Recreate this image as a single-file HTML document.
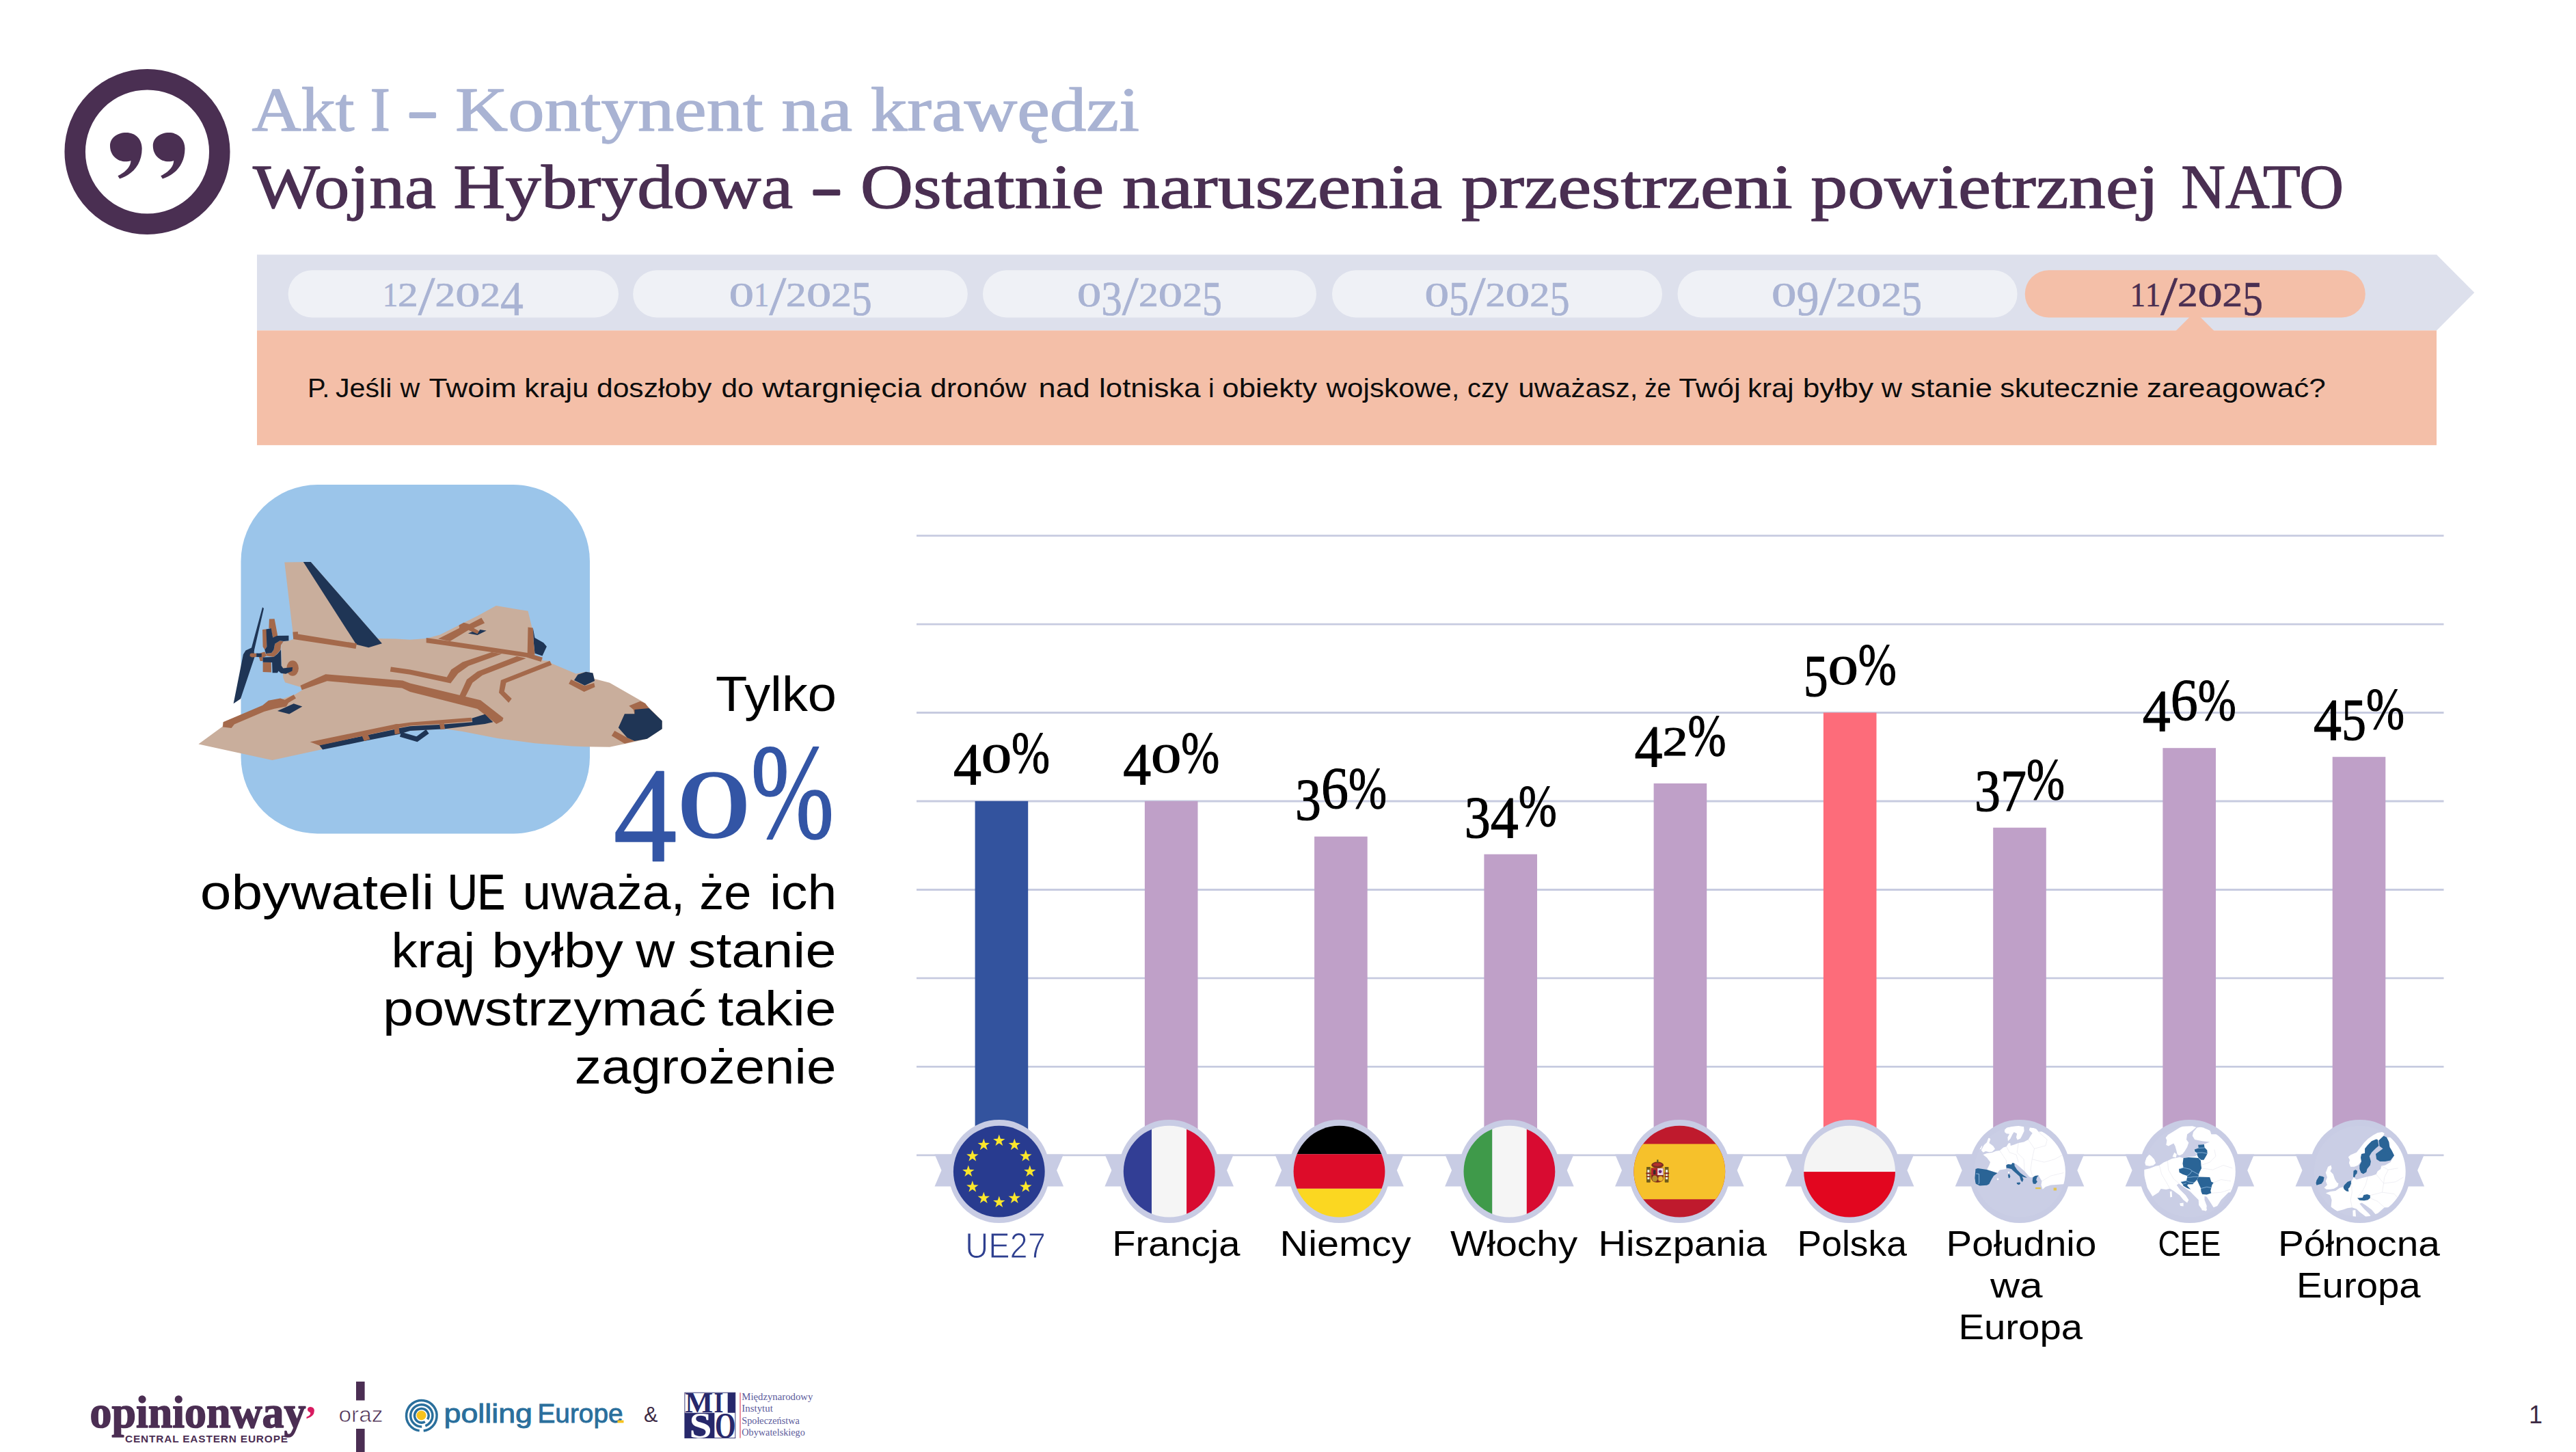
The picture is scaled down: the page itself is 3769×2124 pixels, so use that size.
<!DOCTYPE html>
<html lang="pl">
<head>
<meta charset="utf-8">
<title>Wojna Hybrydowa - Ostatnie naruszenia przestrzeni powietrznej NATO</title>
<style>
html,body{margin:0;padding:0;background:#fff;}
body{width:3769px;height:2124px;overflow:hidden;position:relative;}
svg{display:block;position:absolute;left:0;top:0;}
.sans{font-family:"Liberation Sans", "DejaVu Sans", sans-serif;}
.serif{font-family:"Liberation Serif", "DejaVu Serif", serif;}
</style>
</head>
<body>
<svg width="3769" height="2124" viewBox="0 0 3769 2124">
<!-- HEADER: quote icon + titles -->
<g id="quote-icon" fill="#4a2f52">
  <circle cx="215.5" cy="222" r="105.8" fill="none" stroke="#4a2f52" stroke-width="30.5"/>
  <path id="comma" d="M161 213.2 C161 202.3 171 194.1 184.6 194.1 C198.2 194.1 207.7 203.6 207.7 217.2 C207.7 240.3 194.1 255.3 175.1 261.5 L172.4 257.2 C184.6 251.2 191.4 243 191.4 234.9 C188.7 236 186.5 236.3 184.1 236.3 C171 236.3 161 226.7 161 213.2 Z"/>
  <path d="M161 213.2 C161 202.3 171 194.1 184.6 194.1 C198.2 194.1 207.7 203.6 207.7 217.2 C207.7 240.3 194.1 255.3 175.1 261.5 L172.4 257.2 C184.6 251.2 191.4 243 191.4 234.9 C188.7 236 186.5 236.3 184.1 236.3 C171 236.3 161 226.7 161 213.2 Z" transform="translate(62.8 0)"/>
</g>
<text class="serif" font-size="92" fill="#a9b3d3" stroke="#a9b3d3" stroke-width="1.3" stroke-linejoin="round"><tspan x="368.5" y="191" textLength="150.1" lengthAdjust="spacingAndGlyphs">Akt</tspan> <tspan x="541.5" y="191" textLength="29.5" lengthAdjust="spacingAndGlyphs">I</tspan> <tspan x="600.8" y="189.6" textLength="35.2" lengthAdjust="spacingAndGlyphs" stroke-width="4.2">–</tspan> <tspan x="666.1" y="191" textLength="450.6" lengthAdjust="spacingAndGlyphs">Kontynent</tspan> <tspan x="1143.2" y="191" textLength="103.9" lengthAdjust="spacingAndGlyphs">na</tspan> <tspan x="1273.7" y="191" textLength="393.3" lengthAdjust="spacingAndGlyphs">krawędzi</tspan></text>
<text class="serif" font-size="92" fill="#4a2f52" stroke="#4a2f52" stroke-width="1.3" stroke-linejoin="round"><tspan x="369.9" y="304.2" textLength="268.3" lengthAdjust="spacingAndGlyphs">Wojna</tspan> <tspan x="663.3" y="304.2" textLength="496.9" lengthAdjust="spacingAndGlyphs">Hybrydowa</tspan> <tspan x="1191.6" y="302.8" textLength="35.7" lengthAdjust="spacingAndGlyphs" stroke-width="4.2">–</tspan> <tspan x="1258.7" y="304.2" textLength="356.6" lengthAdjust="spacingAndGlyphs">Ostatnie</tspan> <tspan x="1641.9" y="304.2" textLength="468.3" lengthAdjust="spacingAndGlyphs">naruszenia</tspan> <tspan x="2138.1" y="304.2" textLength="484.6" lengthAdjust="spacingAndGlyphs">przestrzeni</tspan> <tspan x="2649.2" y="304.2" textLength="509.4" lengthAdjust="spacingAndGlyphs">powietrznej</tspan> <tspan x="3191.2" y="304.2" textLength="237.8" lengthAdjust="spacingAndGlyphs">NATO</tspan></text>
<!-- TIMELINE -->
<g id="timeline">
  <polygon points="376,372.6 3565,372.6 3620.3,428 3565,483.6 376,483.6" fill="#dde0ec"/>
  <rect x="376" y="483.4" width="3189" height="167.8" fill="#f4bfa8"/>
  <polygon points="3183.5,484 3211.5,456 3239.5,484" fill="#f4bfa8"/>
  <g fill="#eff1f6">
    <rect x="421.6" y="395.3" width="483.4" height="69.2" rx="34.6"/>
    <rect x="926.2" y="395.3" width="489.6" height="69.2" rx="34.6"/>
    <rect x="1438" y="395.3" width="488" height="69.2" rx="34.6"/>
    <rect x="1949" y="395.3" width="483" height="69.2" rx="34.6"/>
    <rect x="2454.5" y="395.3" width="497.1" height="69.2" rx="34.6"/>
  </g>
  <rect x="2962.7" y="395.3" width="498.1" height="69.2" rx="34.6" fill="#f4bfa8"/>
  <g id="dates">
  <text class="serif" fill="#a9b3d3" stroke="#a9b3d3" stroke-width="0.7"><tspan x="559.9" y="448.3" font-size="49.8" textLength="22.2" lengthAdjust="spacingAndGlyphs">1</tspan><tspan x="582.1" y="448.3" font-size="49.8" textLength="29.7" lengthAdjust="spacingAndGlyphs">2</tspan><tspan x="611.8" y="459.5" font-size="80" textLength="24.7" lengthAdjust="spacingAndGlyphs">/</tspan><tspan x="636.5" y="448.3" font-size="49.8" textLength="29.7" lengthAdjust="spacingAndGlyphs">2</tspan><tspan x="666.2" y="448.3" font-size="49.8" textLength="36.3" lengthAdjust="spacingAndGlyphs">0</tspan><tspan x="702.5" y="448.3" font-size="49.8" textLength="29.7" lengthAdjust="spacingAndGlyphs">2</tspan><tspan x="732.1" y="461.3" font-size="71.0" textLength="33.8" lengthAdjust="spacingAndGlyphs">4</tspan></text>
  <text class="serif" fill="#a9b3d3" stroke="#a9b3d3" stroke-width="0.7"><tspan x="1066.7" y="448.3" font-size="49.8" textLength="36.3" lengthAdjust="spacingAndGlyphs">0</tspan><tspan x="1103.0" y="448.3" font-size="49.8" textLength="22.3" lengthAdjust="spacingAndGlyphs">1</tspan><tspan x="1125.4" y="459.5" font-size="80" textLength="24.8" lengthAdjust="spacingAndGlyphs">/</tspan><tspan x="1150.1" y="448.3" font-size="49.8" textLength="29.7" lengthAdjust="spacingAndGlyphs">2</tspan><tspan x="1179.9" y="448.3" font-size="49.8" textLength="36.3" lengthAdjust="spacingAndGlyphs">0</tspan><tspan x="1216.2" y="448.3" font-size="49.8" textLength="29.7" lengthAdjust="spacingAndGlyphs">2</tspan><tspan x="1246.0" y="461.3" font-size="71.0" textLength="29.7" lengthAdjust="spacingAndGlyphs">5</tspan></text>
  <text class="serif" fill="#a9b3d3" stroke="#a9b3d3" stroke-width="0.7"><tspan x="1576.0" y="448.3" font-size="49.8" textLength="35.3" lengthAdjust="spacingAndGlyphs">0</tspan><tspan x="1611.3" y="461.3" font-size="71.0" textLength="30.5" lengthAdjust="spacingAndGlyphs">3</tspan><tspan x="1641.8" y="459.5" font-size="80" textLength="24.1" lengthAdjust="spacingAndGlyphs">/</tspan><tspan x="1665.9" y="448.3" font-size="49.8" textLength="28.9" lengthAdjust="spacingAndGlyphs">2</tspan><tspan x="1694.8" y="448.3" font-size="49.8" textLength="35.3" lengthAdjust="spacingAndGlyphs">0</tspan><tspan x="1730.2" y="448.3" font-size="49.8" textLength="28.9" lengthAdjust="spacingAndGlyphs">2</tspan><tspan x="1759.1" y="461.3" font-size="71.0" textLength="28.9" lengthAdjust="spacingAndGlyphs">5</tspan></text>
  <text class="serif" fill="#a9b3d3" stroke="#a9b3d3" stroke-width="0.7"><tspan x="2084.5" y="448.3" font-size="49.8" textLength="35.6" lengthAdjust="spacingAndGlyphs">0</tspan><tspan x="2120.1" y="461.3" font-size="71.0" textLength="29.1" lengthAdjust="spacingAndGlyphs">5</tspan><tspan x="2149.2" y="459.5" font-size="80" textLength="24.3" lengthAdjust="spacingAndGlyphs">/</tspan><tspan x="2173.5" y="448.3" font-size="49.8" textLength="29.1" lengthAdjust="spacingAndGlyphs">2</tspan><tspan x="2202.6" y="448.3" font-size="49.8" textLength="35.6" lengthAdjust="spacingAndGlyphs">0</tspan><tspan x="2238.2" y="448.3" font-size="49.8" textLength="29.1" lengthAdjust="spacingAndGlyphs">2</tspan><tspan x="2267.4" y="461.3" font-size="71.0" textLength="29.1" lengthAdjust="spacingAndGlyphs">5</tspan></text>
  <text class="serif" fill="#a9b3d3" stroke="#a9b3d3" stroke-width="0.7"><tspan x="2592.0" y="448.3" font-size="49.8" textLength="36.4" lengthAdjust="spacingAndGlyphs">0</tspan><tspan x="2628.4" y="461.3" font-size="71.0" textLength="33.1" lengthAdjust="spacingAndGlyphs">9</tspan><tspan x="2661.5" y="459.5" font-size="80" textLength="24.8" lengthAdjust="spacingAndGlyphs">/</tspan><tspan x="2686.3" y="448.3" font-size="49.8" textLength="29.8" lengthAdjust="spacingAndGlyphs">2</tspan><tspan x="2716.1" y="448.3" font-size="49.8" textLength="36.4" lengthAdjust="spacingAndGlyphs">0</tspan><tspan x="2752.5" y="448.3" font-size="49.8" textLength="29.8" lengthAdjust="spacingAndGlyphs">2</tspan><tspan x="2782.2" y="461.3" font-size="71.0" textLength="29.8" lengthAdjust="spacingAndGlyphs">5</tspan></text>
  <text class="serif" fill="#4a2f52" stroke="#4a2f52" stroke-width="0.7"><tspan x="3116.8" y="448.3" font-size="49.8" textLength="22.2" lengthAdjust="spacingAndGlyphs">1</tspan><tspan x="3139.0" y="448.3" font-size="49.8" textLength="22.2" lengthAdjust="spacingAndGlyphs">1</tspan><tspan x="3161.2" y="459.5" font-size="80" textLength="24.7" lengthAdjust="spacingAndGlyphs">/</tspan><tspan x="3185.9" y="448.3" font-size="49.8" textLength="29.6" lengthAdjust="spacingAndGlyphs">2</tspan><tspan x="3215.4" y="448.3" font-size="49.8" textLength="36.2" lengthAdjust="spacingAndGlyphs">0</tspan><tspan x="3251.6" y="448.3" font-size="49.8" textLength="29.6" lengthAdjust="spacingAndGlyphs">2</tspan><tspan x="3281.2" y="461.3" font-size="71.0" textLength="29.6" lengthAdjust="spacingAndGlyphs">5</tspan></text>
  </g>
  <text class="sans" y="581.2" font-size="39" fill="#0d0d0d"><tspan x="449.9" textLength="32.5" lengthAdjust="spacingAndGlyphs">P.</tspan> <tspan x="490.9" textLength="82.5" lengthAdjust="spacingAndGlyphs">Jeśli</tspan> <tspan x="585.6" textLength="28.8" lengthAdjust="spacingAndGlyphs">w</tspan> <tspan x="627.6" textLength="128.1" lengthAdjust="spacingAndGlyphs">Twoim</tspan> <tspan x="767.3" textLength="94.0" lengthAdjust="spacingAndGlyphs">kraju</tspan> <tspan x="872.9" textLength="168.5" lengthAdjust="spacingAndGlyphs">doszłoby</tspan> <tspan x="1055.5" textLength="47.2" lengthAdjust="spacingAndGlyphs">do</tspan> <tspan x="1115.3" textLength="232.8" lengthAdjust="spacingAndGlyphs">wtargnięcia</tspan> <tspan x="1361.2" textLength="140.6" lengthAdjust="spacingAndGlyphs">dronów</tspan> <tspan x="1519.6" textLength="75.4" lengthAdjust="spacingAndGlyphs">nad</tspan> <tspan x="1608.1" textLength="148.4" lengthAdjust="spacingAndGlyphs">lotniska</tspan> <tspan x="1768.0">i</tspan> <tspan x="1788.3" textLength="139.0" lengthAdjust="spacingAndGlyphs">obiekty</tspan> <tspan x="1940.5" textLength="194.9" lengthAdjust="spacingAndGlyphs">wojskowe,</tspan> <tspan x="2147.0" textLength="59.9" lengthAdjust="spacingAndGlyphs">czy</tspan> <tspan x="2221.5" textLength="174.8" lengthAdjust="spacingAndGlyphs">uważasz,</tspan> <tspan x="2406.3" textLength="38.6" lengthAdjust="spacingAndGlyphs">że</tspan> <tspan x="2456.3" textLength="90.4" lengthAdjust="spacingAndGlyphs">Twój</tspan> <tspan x="2557.0" textLength="67.6" lengthAdjust="spacingAndGlyphs">kraj</tspan> <tspan x="2637.7" textLength="103.4" lengthAdjust="spacingAndGlyphs">byłby</tspan> <tspan x="2752.7" textLength="30.3" lengthAdjust="spacingAndGlyphs">w</tspan> <tspan x="2795.2" textLength="119.8" lengthAdjust="spacingAndGlyphs">stanie</tspan> <tspan x="2926.3" textLength="203.1" lengthAdjust="spacingAndGlyphs">skutecznie</tspan> <tspan x="3140.9" textLength="261.9" lengthAdjust="spacingAndGlyphs">zareagować?</tspan></text>
</g>
<!-- DRONE -->
<g id="drone">
<rect x="352.5" y="709" width="510.5" height="510.5" rx="112" fill="#9bc5ea"/>
<polygon fill="#1f3555" points="384.0,888.3 386.0,890.1 372.1,950.5 371.7,953.8 372.4,961.6 352.0,1022.2 341.6,1029.3 355.9,957.2 359.5,951.6 368.0,947.5"/>
<polygon fill="#c9ae9c" points="416.3,822.6 454.7,821.9 552.4,934.1 579.5,934.6 600.0,935.7 623.7,933.9 643.8,928.4 699.5,900.5 725.9,886.1 772.5,893.8 778.5,918.4 782.5,958.6 793.5,962.2 793.8,966.2 804.4,966.8 807.2,970.6 842.7,985.6 857.3,982.7 867.4,984.5 869.8,992.9 892.0,998.7 941.3,1027.0 950.4,1036.1 968.7,1054.4 968.7,1066.2 946.8,1080.8 926.7,1085.6 892.0,1092.7 855.5,1092.2 837.3,1091.4 782.5,1087.2 727.8,1079.9 676.7,1069.9 651.1,1066.2 600.0,1069.0 583.8,1073.7 531.7,1083.9 472.1,1096.0 398.3,1112.1 290.4,1088.4 325.6,1062.8 326.7,1056.3 384.2,1032.4 431.9,1015.7 441.7,1009.7 439.5,1004.9 417.1,998.2 414.3,991.3 413.8,979.2 411.8,973.7 411.3,943.9 415.1,938.2 422.6,937.3 429.2,935.1 428.4,924.6"/>
<polygon fill="#1f3555" points="443.8,821.9 454.7,821.9 558.9,941.3 539.3,947.2 521.3,942.8"/>
<polygon fill="#a4694b" points="428.4,924.6 435.8,924.1 436.0,927.6 522.0,941.3 520.5,948.9 429.2,935.1"/>
<ellipse cx="428.1" cy="977.5" rx="8.8" ry="11.2" fill="#a4694b"/>
<polygon fill="#a4694b" points="393.9,905.6 401.6,905.3 406.0,928.5 406.0,931.8 399.4,932.9 396.1,919.1 393.4,919.1"/>
<polygon fill="#a4694b" points="384.0,921.0 390.1,920.2 390.4,946.1 387.3,950.5 384.6,946.1"/>
<polygon fill="#a4694b" points="379.0,956.0 387.3,953.3 390.1,959.4 384.6,962.1 384.6,967.1 380.7,967.1 379.0,961.6"/>
<polygon fill="#a4694b" points="402.2,941.7 409.4,937.3 414.9,938.2 411.0,943.7 410.5,950.5 406.0,956.0 400.5,961.0 390.1,959.4 389.0,956.0 397.2,954.9 400.5,950.5"/>
<polygon fill="#1f3555" points="389.5,920.6 396.7,919.1 399.2,932.7 405.2,930.1 422.4,929.8 422.4,937.3 415.1,937.9 409.4,937.3 402.2,941.7 400.5,950.5 397.2,954.9 389.0,956.0 387.3,950.5 390.4,946.1"/>
<polygon fill="#a4694b" points="384.6,968.7 396.7,969.1 397.0,983.6 384.6,983.1"/>
<polygon fill="#1f3555" points="384.6,961.6 400.5,961.0 406.0,956.6 411.0,950.5 411.6,973.7 414.3,977.5 428.1,976.1 427.5,981.4 418.2,985.8 411.0,984.7 407.4,981.6 406.0,984.2 398.6,984.2 398.1,969.1 384.6,968.7"/>
<polygon fill="#a4694b" points="365.8,956.6 368.0,955.5 375.4,955.8 375.4,961.0 368.6,961.6 365.5,959.9"/>
<polygon fill="#1f3555" points="375.2,955.5 382.9,956.0 382.7,961.3 375.2,961.0"/>
<polygon fill="#a4694b" points="439.5,1002.7 476.4,986.2 589.2,995.5 600.0,999.6 673.0,1017.0 703.1,1024.3 736.5,1050.2 735.1,1054.4 726.3,1058.9 698.6,1037.0 600.0,1011.9 588.2,1006.4 478.6,996.2 441.7,1009.2"/>
<polygon fill="#a4694b" points="571.9,975.4 600.0,979.5 653.8,990.5 660.2,979.5 676.7,968.6 719.5,954.0 734.1,956.4 685.8,974.1 670.3,985.0 659.3,999.6 600.0,986.8 570.8,982.5"/>
<polygon fill="#a4694b" points="623.7,933.0 654.8,937.6 771.6,954.9 793.8,961.8 791.6,968.0 769.7,961.3 652.9,944.3 623.7,940.3"/>
<polygon fill="#a4694b" points="756.1,960.0 769.7,963.1 705.9,987.8 691.3,998.7 680.3,1020.6 672.1,1017.9 683.0,994.1 698.6,982.3"/>
<polygon fill="#a4694b" points="641.1,934.5 672.1,918.8 671.5,914.4 678.5,910.7 686.7,912.9 704.4,903.8 709.1,911.5 693.1,918.8 701.3,923.5 698.6,927.5 685.4,921.7 658.4,938.1"/>
<polygon fill="#1f3555" points="684.9,926.6 691.3,923.9 698.6,927.2 702.2,921.1 711.7,922.4 698.6,929.0"/>
<polygon fill="#1f3555" points="779.8,918.8 782.5,933.0 795.3,940.3 799.9,945.8 793.5,959.5 782.5,955.8 780.7,938.5"/>
<polygon fill="#a4694b" points="772.5,917.5 779.8,918.4 780.7,937.6 782.5,957.6 771.6,959.5"/>
<polygon fill="#a4694b" points="804.4,966.8 807.2,972.8 740.5,998.7 737.8,1011.5 748.7,1022.1 744.2,1027.9 730.0,1013.3 732.9,995.1"/>
<polygon fill="#a4694b" points="835.4,994.1 855.5,1003.3 869.2,999.1 870.5,1005.1 854.6,1011.9 832.2,1000.2"/>
<polygon fill="#1f3555" points="840.0,995.1 845.5,986.8 857.3,982.7 867.4,984.5 870.1,996.0 855.5,1002.7"/>
<polygon fill="#a4694b" points="920.3,1032.5 936.7,1025.7 944.0,1028.8 949.5,1036.1 928.5,1044.7 926.7,1038.0"/>
<polygon fill="#a4694b" points="894.8,1076.3 899.3,1069.0 917.6,1079.0 928.5,1084.1 913.9,1087.8"/>
<polygon fill="#1f3555" points="904.8,1064.4 913.9,1044.3 928.5,1044.3 928.5,1038.0 949.5,1036.1 968.7,1054.4 968.7,1066.2 946.8,1080.8 928.5,1084.1 917.6,1079.0"/>
<polygon fill="#a4694b" points="326.7,1056.3 384.2,1031.8 392.8,1024.8 410.2,1021.6 416.7,1023.8 429.7,1016.2 433.0,1021.6 422.1,1028.1 418.9,1033.5 401.5,1036.8 386.3,1041.1 342.9,1059.6 338.6,1065.0 326.0,1063.5"/>
<polygon fill="#1f3555" points="405.9,1040.0 429.7,1029.2 442.3,1033.5 423.2,1044.4"/>
<polygon fill="#1f3555" points="467.1,1089.9 579.5,1066.5 583.8,1065.2 600.0,1062.2 643.8,1059.9 691.3,1056.2 690.3,1050.7 709.5,1044.7 721.4,1056.2 709.5,1058.9 651.1,1066.2 600.0,1069.0 583.8,1073.9 531.7,1084.3 472.1,1096.5"/>
<polygon fill="#a4694b" points="453.6,1085.2 580.6,1059.1 583.8,1059.1 600.0,1056.8 689.4,1049.8 690.9,1054.9 643.8,1058.9 600.0,1061.5 583.8,1064.8 579.5,1066.1 467.1,1090.4"/>
<polygon fill="#a4694b" points="529.6,1076.5 538.2,1074.3 541.5,1081.3 532.8,1083.9"/>
<polygon fill="#a4694b" points="576.2,1060.0 582.7,1059.1 584.9,1073.0 577.7,1074.3"/>
<polygon fill="#a4694b" points="642.9,1058.9 649.6,1058.0 651.1,1066.2 644.7,1067.2"/>
<polyline fill="none" stroke="#1f3555" stroke-width="7.2" stroke-linejoin="miter" points="586.0,1074.3 609.9,1081.3 625.5,1070.0"/>
</g>
<!-- LEFT PANEL TEXT -->
<g id="left-text">
  <text class="sans" x="1047" y="1039.5" font-size="73" fill="#000" textLength="177" lengthAdjust="spacingAndGlyphs">Tylko</text>
  <text class="serif" fill="#3355a5" stroke="#3355a5" stroke-width="1.6" stroke-linejoin="round"><tspan x="897.5" y="1259.8" font-size="199.4" textLength="93.0" lengthAdjust="spacingAndGlyphs">4</tspan><tspan x="990.5" y="1224.8" font-size="142.0" textLength="108.0" lengthAdjust="spacingAndGlyphs">0</tspan><tspan x="1098.5" y="1224.8" font-size="199.4" textLength="122.0" lengthAdjust="spacingAndGlyphs">%</tspan></text>
  <g id="para">
<text class="sans" y="1329.9" font-size="73" fill="#000"><tspan x="292.7" textLength="342.6" lengthAdjust="spacingAndGlyphs">obywateli</tspan> <tspan x="655.0" textLength="84.0" lengthAdjust="spacingAndGlyphs" stroke="#000" stroke-width="0.9">UE</tspan> <tspan x="764.5" textLength="237.9" lengthAdjust="spacingAndGlyphs">uważa,</tspan> <tspan x="1023.2" textLength="76.2" lengthAdjust="spacingAndGlyphs">że</tspan> <tspan x="1125.9" textLength="98.3" lengthAdjust="spacingAndGlyphs">ich</tspan></text>
<text class="sans" y="1414.8" font-size="73" fill="#000"><tspan x="572.5" textLength="122.8" lengthAdjust="spacingAndGlyphs">kraj</tspan> <tspan x="719.2" textLength="192.7" lengthAdjust="spacingAndGlyphs">byłby</tspan> <tspan x="930.2" textLength="57.1" lengthAdjust="spacingAndGlyphs">w</tspan> <tspan x="1007.1" textLength="216.4" lengthAdjust="spacingAndGlyphs">stanie</tspan></text>
<text class="sans" y="1499.5" font-size="73" fill="#000"><tspan x="559.9" textLength="473.6" lengthAdjust="spacingAndGlyphs">powstrzymać</tspan> <tspan x="1050.4" textLength="173.1" lengthAdjust="spacingAndGlyphs">takie</tspan></text>
<text class="sans" y="1584.8" font-size="73" fill="#000"><tspan x="840.8" textLength="382.7" lengthAdjust="spacingAndGlyphs">zagrożenie</tspan></text>
</g>
</g>
<!-- CHART -->
<g id="chart">
<g stroke="#c7cbe0" stroke-width="2.8">
<line x1="1341" x2="3575.5" y1="1689.8" y2="1689.8"/>
<line x1="1341" x2="3575.5" y1="1560.3" y2="1560.3"/>
<line x1="1341" x2="3575.5" y1="1430.9" y2="1430.9"/>
<line x1="1341" x2="3575.5" y1="1301.5" y2="1301.5"/>
<line x1="1341" x2="3575.5" y1="1172.0" y2="1172.0"/>
<line x1="1341" x2="3575.5" y1="1042.5" y2="1042.5"/>
<line x1="1341" x2="3575.5" y1="913.1" y2="913.1"/>
<line x1="1341" x2="3575.5" y1="783.7" y2="783.7"/>
</g>
<rect x="1426.6" y="1171.9" width="77.6" height="528.1" fill="#33539e"/>
<rect x="1674.9" y="1171.9" width="77.6" height="528.1" fill="#bfa0c8"/>
<rect x="1923.1" y="1223.7" width="77.6" height="476.3" fill="#bfa0c8"/>
<rect x="2171.4" y="1249.6" width="77.6" height="450.4" fill="#bfa0c8"/>
<rect x="2419.6" y="1146.0" width="77.6" height="554.0" fill="#bfa0c8"/>
<rect x="2667.9" y="1042.5" width="77.6" height="657.5" fill="#fd6c7a"/>
<rect x="2916.2" y="1210.7" width="77.6" height="489.3" fill="#bfa0c8"/>
<rect x="3164.4" y="1094.2" width="77.6" height="605.8" fill="#bfa0c8"/>
<rect x="3412.7" y="1107.2" width="77.6" height="592.8" fill="#bfa0c8"/>
<g id="value-labels" stroke="#000" stroke-width="1.1" stroke-linejoin="round">
<text class="serif" fill="#000"><tspan x="1394.9" y="1147.0" font-size="86.1" textLength="41.0" lengthAdjust="spacingAndGlyphs">4</tspan><tspan x="1435.9" y="1130.4" font-size="60.4" textLength="44.0" lengthAdjust="spacingAndGlyphs">0</tspan><tspan x="1479.9" y="1130.4" font-size="86.1" textLength="56.0" lengthAdjust="spacingAndGlyphs">%</tspan></text>
<text class="serif" fill="#000"><tspan x="1643.2" y="1147.0" font-size="86.1" textLength="41.0" lengthAdjust="spacingAndGlyphs">4</tspan><tspan x="1684.2" y="1130.4" font-size="60.4" textLength="44.0" lengthAdjust="spacingAndGlyphs">0</tspan><tspan x="1728.2" y="1130.4" font-size="86.1" textLength="56.0" lengthAdjust="spacingAndGlyphs">%</tspan></text>
<text class="serif" fill="#000"><tspan x="1894.9" y="1198.8" font-size="86.1" textLength="38.0" lengthAdjust="spacingAndGlyphs">3</tspan><tspan x="1932.9" y="1182.2" font-size="86.1" textLength="40.0" lengthAdjust="spacingAndGlyphs">6</tspan><tspan x="1972.9" y="1182.2" font-size="86.1" textLength="56.0" lengthAdjust="spacingAndGlyphs">%</tspan></text>
<text class="serif" fill="#000"><tspan x="2142.7" y="1224.7" font-size="86.1" textLength="38.0" lengthAdjust="spacingAndGlyphs">3</tspan><tspan x="2180.7" y="1224.7" font-size="86.1" textLength="41.0" lengthAdjust="spacingAndGlyphs">4</tspan><tspan x="2221.7" y="1208.1" font-size="86.1" textLength="56.0" lengthAdjust="spacingAndGlyphs">%</tspan></text>
<text class="serif" fill="#000"><tspan x="2391.4" y="1121.1" font-size="86.1" textLength="41.0" lengthAdjust="spacingAndGlyphs">4</tspan><tspan x="2432.4" y="1104.5" font-size="60.4" textLength="37.0" lengthAdjust="spacingAndGlyphs">2</tspan><tspan x="2469.4" y="1104.5" font-size="86.1" textLength="56.0" lengthAdjust="spacingAndGlyphs">%</tspan></text>
<text class="serif" fill="#000"><tspan x="2638.7" y="1017.6" font-size="86.1" textLength="36.0" lengthAdjust="spacingAndGlyphs">5</tspan><tspan x="2674.7" y="1001.0" font-size="60.4" textLength="44.0" lengthAdjust="spacingAndGlyphs">0</tspan><tspan x="2718.7" y="1001.0" font-size="86.1" textLength="56.0" lengthAdjust="spacingAndGlyphs">%</tspan></text>
<text class="serif" fill="#000"><tspan x="2889.0" y="1185.8" font-size="86.1" textLength="38.0" lengthAdjust="spacingAndGlyphs">3</tspan><tspan x="2927.0" y="1185.8" font-size="86.1" textLength="38.0" lengthAdjust="spacingAndGlyphs">7</tspan><tspan x="2965.0" y="1169.2" font-size="86.1" textLength="56.0" lengthAdjust="spacingAndGlyphs">%</tspan></text>
<text class="serif" fill="#000"><tspan x="3134.7" y="1069.3" font-size="86.1" textLength="41.0" lengthAdjust="spacingAndGlyphs">4</tspan><tspan x="3175.7" y="1052.7" font-size="86.1" textLength="40.0" lengthAdjust="spacingAndGlyphs">6</tspan><tspan x="3215.7" y="1052.7" font-size="86.1" textLength="56.0" lengthAdjust="spacingAndGlyphs">%</tspan></text>
<text class="serif" fill="#000"><tspan x="3385.0" y="1082.3" font-size="86.1" textLength="41.0" lengthAdjust="spacingAndGlyphs">4</tspan><tspan x="3426.0" y="1082.3" font-size="86.1" textLength="36.0" lengthAdjust="spacingAndGlyphs">5</tspan><tspan x="3462.0" y="1065.7" font-size="86.1" textLength="56.0" lengthAdjust="spacingAndGlyphs">%</tspan></text>
</g>
<g id="medallions">
<defs>
<clipPath id="fc0"><circle cx="1461.8" cy="1713.7" r="66.9"/></clipPath>
<clipPath id="fc1"><circle cx="1710.7" cy="1713.7" r="66.9"/></clipPath>
<clipPath id="fc2"><circle cx="1959.5" cy="1713.7" r="66.9"/></clipPath>
<clipPath id="fc3"><circle cx="2208.4" cy="1713.7" r="66.9"/></clipPath>
<clipPath id="fc4"><circle cx="2457.3" cy="1713.7" r="66.9"/></clipPath>
<clipPath id="fc5"><circle cx="2706.1" cy="1713.7" r="66.9"/></clipPath>
<clipPath id="fc6"><circle cx="2955.0" cy="1713.7" r="66.9"/></clipPath>
<clipPath id="fc7"><circle cx="3203.9" cy="1713.7" r="66.9"/></clipPath>
<clipPath id="fc8"><circle cx="3452.8" cy="1713.7" r="66.9"/></clipPath>
</defs>
<polygon fill="#c8cce4" points="1367.5,1688.4 1556.1,1688.4 1546.1,1712.0 1556.1,1735.4 1367.5,1735.4 1377.5,1712.0"/>
<ellipse cx="1461.8" cy="1713.5" rx="74.2" ry="75.6" fill="#c8cce4"/>
<polygon fill="#c8cce4" points="1616.4,1688.4 1805.0,1688.4 1795.0,1712.0 1805.0,1735.4 1616.4,1735.4 1626.4,1712.0"/>
<ellipse cx="1710.7" cy="1713.5" rx="74.2" ry="75.6" fill="#c8cce4"/>
<polygon fill="#c8cce4" points="1865.2,1688.4 2053.8,1688.4 2043.8,1712.0 2053.8,1735.4 1865.2,1735.4 1875.2,1712.0"/>
<ellipse cx="1959.5" cy="1713.5" rx="74.2" ry="75.6" fill="#c8cce4"/>
<polygon fill="#c8cce4" points="2114.1,1688.4 2302.7,1688.4 2292.7,1712.0 2302.7,1735.4 2114.1,1735.4 2124.1,1712.0"/>
<ellipse cx="2208.4" cy="1713.5" rx="74.2" ry="75.6" fill="#c8cce4"/>
<polygon fill="#c8cce4" points="2363.0,1688.4 2551.6,1688.4 2541.6,1712.0 2551.6,1735.4 2363.0,1735.4 2373.0,1712.0"/>
<ellipse cx="2457.3" cy="1713.5" rx="74.2" ry="75.6" fill="#c8cce4"/>
<polygon fill="#c8cce4" points="2611.8,1688.4 2800.4,1688.4 2790.4,1712.0 2800.4,1735.4 2611.8,1735.4 2621.8,1712.0"/>
<ellipse cx="2706.1" cy="1713.5" rx="74.2" ry="75.6" fill="#c8cce4"/>
<polygon fill="#c8cce4" points="2860.7,1688.4 3049.3,1688.4 3039.3,1712.0 3049.3,1735.4 2860.7,1735.4 2870.7,1712.0"/>
<ellipse cx="2955.0" cy="1713.5" rx="74.2" ry="75.6" fill="#c8cce4"/>
<polygon fill="#c8cce4" points="3109.6,1688.4 3298.2,1688.4 3288.2,1712.0 3298.2,1735.4 3109.6,1735.4 3119.6,1712.0"/>
<ellipse cx="3203.9" cy="1713.5" rx="74.2" ry="75.6" fill="#c8cce4"/>
<polygon fill="#c8cce4" points="3358.5,1688.4 3547.1,1688.4 3537.1,1712.0 3547.1,1735.4 3358.5,1735.4 3368.5,1712.0"/>
<ellipse cx="3452.8" cy="1713.5" rx="74.2" ry="75.6" fill="#c8cce4"/>
<g clip-path="url(#fc0)"><rect x="1391.8" y="1643.7" width="140" height="140" fill="#283b8f"/>
<g fill="#fce72b">
<polygon points="1461.8,1659.5 1463.9,1665.8 1470.5,1665.9 1465.2,1669.8 1467.2,1676.1 1461.8,1672.3 1456.4,1676.1 1458.4,1669.8 1453.1,1665.9 1459.7,1665.8"/>
<polygon points="1484.3,1665.5 1486.4,1671.8 1493.0,1671.9 1487.7,1675.8 1489.7,1682.2 1484.3,1678.3 1478.9,1682.2 1480.9,1675.8 1475.6,1671.9 1482.2,1671.8"/>
<polygon points="1500.8,1682.0 1502.9,1688.3 1509.5,1688.4 1504.2,1692.3 1506.2,1698.6 1500.8,1694.8 1495.4,1698.6 1497.3,1692.3 1492.0,1688.4 1498.7,1688.3"/>
<polygon points="1506.8,1704.5 1508.9,1710.8 1515.5,1710.9 1510.2,1714.8 1512.2,1721.1 1506.8,1717.3 1501.4,1721.1 1503.4,1714.8 1498.1,1710.9 1504.7,1710.8"/>
<polygon points="1500.8,1727.0 1502.9,1733.3 1509.5,1733.4 1504.2,1737.3 1506.2,1743.6 1500.8,1739.8 1495.4,1743.6 1497.3,1737.3 1492.0,1733.4 1498.7,1733.3"/>
<polygon points="1484.3,1743.5 1486.4,1749.8 1493.0,1749.8 1487.7,1753.8 1489.7,1760.1 1484.3,1756.3 1478.9,1760.1 1480.9,1753.8 1475.6,1749.8 1482.2,1749.8"/>
<polygon points="1461.8,1749.5 1463.9,1755.8 1470.5,1755.9 1465.2,1759.8 1467.2,1766.1 1461.8,1762.3 1456.4,1766.1 1458.4,1759.8 1453.1,1755.9 1459.7,1755.8"/>
<polygon points="1439.3,1743.5 1441.4,1749.8 1448.0,1749.8 1442.7,1753.8 1444.7,1760.1 1439.3,1756.3 1433.9,1760.1 1435.9,1753.8 1430.6,1749.8 1437.2,1749.8"/>
<polygon points="1422.8,1727.0 1424.9,1733.3 1431.6,1733.4 1426.3,1737.3 1428.2,1743.6 1422.8,1739.8 1417.4,1743.6 1419.4,1737.3 1414.1,1733.4 1420.7,1733.3"/>
<polygon points="1416.8,1704.5 1418.9,1710.8 1425.5,1710.9 1420.2,1714.8 1422.2,1721.1 1416.8,1717.3 1411.4,1721.1 1413.4,1714.8 1408.1,1710.9 1414.7,1710.8"/>
<polygon points="1422.8,1682.0 1424.9,1688.3 1431.6,1688.4 1426.3,1692.3 1428.2,1698.6 1422.8,1694.8 1417.4,1698.6 1419.4,1692.3 1414.1,1688.4 1420.7,1688.3"/>
<polygon points="1439.3,1665.5 1441.4,1671.8 1448.0,1671.9 1442.7,1675.8 1444.7,1682.2 1439.3,1678.3 1433.9,1682.2 1435.9,1675.8 1430.6,1671.9 1437.2,1671.8"/>
</g></g>
<g clip-path="url(#fc1)"><rect x="1640.7" y="1643.7" width="44.4" height="140" fill="#323e95"/><rect x="1685.1" y="1643.7" width="51" height="140" fill="#f5f5f5"/><rect x="1736.1" y="1643.7" width="46" height="140" fill="#d80b31"/></g>
<g clip-path="url(#fc2)"><rect x="1889.5" y="1643.7" width="140" height="44.6" fill="#000"/><rect x="1889.5" y="1688.3" width="140" height="50.5" fill="#dd0c29"/><rect x="1889.5" y="1738.8" width="140" height="50" fill="#fbd721"/></g>
<g clip-path="url(#fc3)"><rect x="2138.4" y="1643.7" width="45.0" height="140" fill="#3f9a4a"/><rect x="2183.4" y="1643.7" width="50.4" height="140" fill="#f5f5f5"/><rect x="2233.8" y="1643.7" width="46" height="140" fill="#d80b31"/></g>
<g clip-path="url(#fc4)"><rect x="2387.3" y="1643.7" width="140" height="140" fill="#bf1a2d"/><rect x="2387.3" y="1673.4" width="140" height="80.9" fill="#f6c12b"/>
<g id="spain-arms">
<rect x="2409.02" y="1706.97" width="5.68" height="22.73" fill="#6e5a1c" rx="0.6"/>
<rect x="2410.34" y="1711.14" width="3.03" height="14.02" fill="#f3ecdf"/>
<rect x="2408.26" y="1715.30" width="7.20" height="2.27" fill="#8a2b1e" rx="0.8"/>
<rect x="2408.64" y="1720.23" width="6.44" height="1.89" fill="#8a2b1e" rx="0.8"/>
<rect x="2435.72" y="1706.97" width="5.68" height="22.73" fill="#6e5a1c" rx="0.6"/>
<rect x="2437.05" y="1711.14" width="3.03" height="14.02" fill="#f3ecdf"/>
<rect x="2434.96" y="1715.30" width="7.20" height="2.27" fill="#8a2b1e" rx="0.8"/>
<rect x="2435.34" y="1720.23" width="6.44" height="1.89" fill="#8a2b1e" rx="0.8"/>
<ellipse cx="2425.11" cy="1704.13" rx="8.9" ry="4.6" fill="#7a2f1f"/>
<ellipse cx="2425.11" cy="1703.53" rx="6.6" ry="2.2" fill="#b5302c"/>
<rect x="2424.17" y="1696.36" width="2.27" height="4.55" fill="#5e5a1a"/>
<path d="M2415.64 1708.48 H2434.02 V1722.09 Q2434.02 1729.70 2424.83 1729.70 Q2415.64 1729.70 2415.64 1722.09 Z" fill="#7c2a1c"/>
<rect x="2416.14" y="1708.98" width="8.49" height="10.01" fill="#b8252b"/>
<rect x="2425.13" y="1708.98" width="8.39" height="10.01" fill="#efd9e4"/>
<circle cx="2429.09" cy="1713.79" r="2.4" fill="#6a2a78"/>
<rect x="2418.96" y="1711.55" width="3.6" height="6.5" fill="#3b2a2a"/>
<ellipse cx="2421.14" cy="1724.02" rx="4" ry="4.6" fill="#b48f2c"/>
<circle cx="2429.66" cy="1724.20" r="3.9" fill="#e9b92a" stroke="#a5522a" stroke-width="0.8"/>
</g>
</g>
<g clip-path="url(#fc5)"><rect x="2636.1" y="1643.7" width="140" height="70.4" fill="#f4f4f4"/><rect x="2636.1" y="1714.1" width="140" height="72" fill="#e2061f"/></g>
<g clip-path="url(#fc6)">
<circle cx="2955.0" cy="1713.7" r="68" fill="#cacee5"/>
<polygon fill="#ffffff" points="2898.8,1682.5 2902.9,1675.0 2907.1,1670.9 2909.5,1664.0 2912.3,1666.0 2910.4,1672.0 2916.4,1676.4 2919.0,1680.8 2914.8,1684.7 2910.4,1685.2 2905.4,1684.1 2901.5,1685.8"/>
<polygon fill="#ffffff" points="2894.9,1678.1 2897.7,1674.8 2900.4,1676.4 2898.8,1680.8 2895.5,1681.4"/>
<polygon fill="#ffffff" points="2933.0,1652.7 2936.3,1649.4 2944.5,1647.8 2953.3,1647.0 2961.1,1648.3 2961.6,1654.4 2958.3,1661.5 2956.1,1665.4 2951.7,1667.6 2950.0,1663.8 2951.1,1658.2 2946.7,1656.0 2944.5,1659.3 2941.2,1666.0 2937.9,1669.3 2937.4,1663.8 2940.1,1658.8 2935.7,1658.2 2933.0,1656.0"/>
<polygon fill="#ffffff" points="2925.8,1683.0 2931.3,1678.6 2935.7,1677.2 2938.5,1672.6 2941.2,1672.0 2941.8,1675.9 2946.7,1674.6 2953.3,1672.0 2961.1,1670.6 2967.7,1667.1 2971.0,1661.5 2973.7,1657.4 2968.8,1653.3 2969.9,1649.4 2978.7,1650.5 2982.5,1655.5 2994.1,1654.9 3028.3,1654.9 3028.3,1732.6 3018.4,1732.3 3011.7,1732.8 3000.7,1733.4 2993.0,1735.9 2988.6,1739.8 2986.4,1733.2 2987.5,1727.7 2984.2,1722.2 2982.5,1719.1 2977.6,1720.0 2974.3,1722.2 2971.0,1722.2 2968.8,1721.1 2962.2,1713.3 2953.3,1705.6 2950.0,1702.9 2947.3,1701.8 2944.5,1701.0 2942.9,1703.4 2937.9,1702.9 2935.2,1704.7 2935.2,1710.0 2925.8,1711.4 2922.5,1715.8 2907.1,1711.1 2910.4,1704.5 2912.0,1700.1 2907.1,1693.5 2901.5,1689.1 2907.1,1686.9 2914.8,1686.0 2920.3,1683.8"/>
<polygon fill="#2a6496" points="2890.5,1710.0 2893.8,1708.9 2907.1,1711.1 2922.5,1716.1 2917.0,1720.0 2913.7,1725.5 2910.4,1732.1 2907.1,1733.7 2896.6,1734.5 2890.5,1731.5 2889.4,1723.3"/>
<polyline fill="none" stroke="#9fc4e6" stroke-width="0.9" points="2891.1,1716.9 2895.5,1717.3 2895.7,1729.9 2894.9,1732.1"/>
<polygon fill="#2a6496" points="2935.2,1704.5 2937.9,1702.9 2942.9,1703.4 2944.5,1701.0 2947.3,1701.8 2947.6,1705.6 2951.1,1711.1 2956.1,1716.1 2961.1,1719.4 2966.0,1722.7 2962.2,1722.2 2958.8,1721.1 2960.5,1725.5 2958.8,1729.3 2956.6,1726.6 2955.0,1721.1 2950.0,1716.6 2946.2,1713.3 2942.9,1710.0 2939.0,1708.9 2935.7,1708.4"/>
<polygon fill="#2a6496" points="2937.9,1718.3 2940.1,1717.2 2941.4,1721.1 2940.1,1723.8 2938.5,1722.2"/>
<polygon fill="#2a6496" points="2950.6,1729.9 2955.5,1729.6 2956.1,1731.5 2953.9,1733.2 2951.1,1732.1"/>
<circle cx="2939.0" cy="1715.0" r="1.2" fill="#fff"/>
<circle cx="2923.0" cy="1724.9" r="1.3" fill="#fff"/>
<polygon fill="#2a6496" points="2974.3,1722.2 2977.6,1720.0 2982.5,1719.4 2980.3,1722.2 2979.2,1726.0 2980.9,1728.8 2978.1,1732.1 2974.8,1731.5 2973.7,1727.7"/>
<polygon fill="#e3c24a" points="2978.1,1737.0 2985.8,1737.0 2985.8,1739.2 2978.1,1739.2"/>
<polygon fill="#e3c24a" points="3004.6,1737.6 3009.0,1737.6 3009.0,1741.4 3004.6,1741.4"/>
<polyline fill="none" stroke="#e4e4ec" stroke-width="0.6" points="2925.8,1683.0 2931.3,1691.3 2935.7,1697.9 2935.2,1704.5"/>
<polyline fill="none" stroke="#e4e4ec" stroke-width="0.6" points="2935.7,1677.2 2940.1,1685.8 2950.0,1689.1 2953.3,1700.1"/>
<polyline fill="none" stroke="#e4e4ec" stroke-width="0.6" points="2953.3,1672.0 2951.1,1685.8 2961.1,1695.7 2962.2,1713.3"/>
<polyline fill="none" stroke="#e4e4ec" stroke-width="0.6" points="2967.7,1667.1 2976.5,1680.3 2973.2,1695.7 2971.0,1711.1 2974.3,1722.2"/>
<polyline fill="none" stroke="#e4e4ec" stroke-width="0.6" points="2976.5,1680.3 2993.0,1675.9 2995.2,1667.1 2982.5,1655.5"/>
<polyline fill="none" stroke="#e4e4ec" stroke-width="0.6" points="2973.2,1695.7 2990.8,1700.1 3006.2,1695.7 3018.4,1689.1"/>
<polyline fill="none" stroke="#e4e4ec" stroke-width="0.6" points="2987.5,1727.7 3000.7,1720.0 3019.5,1715.5"/>
</g>
<g clip-path="url(#fc7)">
<circle cx="3203.9" cy="1713.7" r="68" fill="#cacee5"/>
<polygon fill="#ffffff" points="3168.7,1664.3 3172.0,1659.9 3180.3,1654.9 3189.1,1649.4 3193.5,1647.8 3207.8,1647.2 3213.4,1648.9 3207.8,1653.8 3200.1,1659.3 3199.0,1667.1 3202.3,1671.5 3200.1,1678.1 3196.8,1683.6 3193.5,1688.0 3189.1,1690.2 3185.8,1689.1 3184.2,1682.5 3182.5,1676.4 3180.3,1672.6 3175.9,1674.8 3172.6,1676.4 3169.3,1674.8 3170.4,1668.2"/>
<polygon fill="#ffffff" points="3178.6,1691.9 3181.4,1685.8 3184.7,1688.5 3183.8,1693.5"/>
<polygon fill="#ffffff" points="3137.9,1700.1 3140.6,1693.5 3144.5,1688.9 3147.2,1690.7 3151.9,1695.7 3154.1,1701.4 3150.5,1704.7 3145.0,1705.8 3139.5,1704.7"/>
<polygon fill="#ffffff" points="3214.5,1649.4 3222.2,1648.3 3233.2,1652.7 3235.4,1659.3 3277.3,1659.3 3277.3,1744.2 3260.7,1744.2 3249.7,1755.2 3244.2,1764.0 3238.7,1766.2 3233.2,1757.4 3228.8,1750.8 3225.5,1749.7 3225.5,1755.2 3228.8,1764.0 3227.7,1771.7 3222.2,1769.8 3217.2,1763.1 3216.7,1755.2 3211.2,1749.7 3204.5,1743.1 3193.5,1735.4 3188.0,1731.2 3184.7,1733.4 3189.1,1739.8 3197.9,1748.6 3202.3,1755.2 3200.1,1759.6 3194.6,1755.2 3189.1,1748.6 3180.3,1742.0 3174.8,1738.7 3169.3,1740.0 3161.6,1738.9 3158.3,1744.2 3149.4,1749.9 3141.7,1737.6 3137.3,1720.0 3137.3,1711.1 3145.0,1709.2 3153.9,1705.8 3159.4,1704.7 3166.0,1700.3 3171.5,1698.1 3178.1,1694.8 3184.7,1693.7 3189.1,1692.6 3194.6,1694.1 3202.3,1692.6 3211.2,1691.5 3215.6,1689.1 3211.2,1685.8 3210.1,1681.4 3216.1,1680.3 3216.7,1675.0 3224.4,1673.7 3233.2,1670.4 3222.2,1669.3 3211.2,1667.1 3207.8,1661.5 3209.0,1656.0"/>
<polygon fill="#ffffff" points="3174.8,1743.1 3177.5,1742.5 3178.1,1750.8 3175.3,1751.4"/>
<polygon fill="#ffffff" points="3189.1,1760.2 3194.6,1759.6 3194.6,1764.6 3190.2,1764.0"/>
<polygon fill="#ffffff" points="3221.6,1767.9 3228.8,1767.9 3228.8,1770.6 3221.6,1770.6"/>
<polygon fill="#2a6496" points="3216.1,1674.8 3224.9,1673.9 3225.5,1678.6 3229.3,1682.5 3229.7,1687.4 3227.7,1691.3 3224.4,1696.8 3220.5,1696.8 3216.7,1693.5 3215.0,1690.2 3214.5,1686.7 3211.7,1685.2 3210.6,1681.4 3216.7,1679.4"/>
<polygon fill="#2a6496" points="3194.6,1694.1 3202.3,1693.0 3211.2,1693.5 3216.7,1694.1 3220.0,1697.4 3220.5,1704.5 3221.1,1708.9 3218.3,1714.4 3216.9,1718.0 3216.7,1721.3 3214.5,1725.7 3210.1,1730.1 3208.4,1732.3 3201.2,1732.6 3200.1,1734.3 3205.1,1739.8 3200.1,1738.1 3194.6,1734.8 3193.5,1732.3 3190.8,1729.0 3199.0,1727.1 3200.1,1722.2 3200.1,1720.0 3193.5,1717.7 3188.6,1715.0 3188.0,1710.0 3194.6,1708.0 3193.5,1702.3"/>
<polygon fill="#2a6496" points="3216.7,1721.6 3233.2,1721.9 3235.4,1728.8 3238.7,1729.9 3236.5,1733.2 3235.4,1737.4 3234.3,1742.0 3235.4,1745.3 3228.8,1747.5 3222.2,1746.9 3220.5,1743.1 3220.0,1738.1 3217.8,1733.2 3214.5,1726.0"/>
<polyline fill="none" stroke="#a9cdee" stroke-width="0.7" points="3216.7,1679.4 3225.5,1679.0"/>
<polyline fill="none" stroke="#a9cdee" stroke-width="0.7" points="3211.7,1685.2 3214.5,1686.3 3222.2,1686.0 3229.7,1687.4"/>
<polyline fill="none" stroke="#a9cdee" stroke-width="0.7" points="3188.0,1710.0 3194.6,1708.0 3204.0,1710.3 3207.3,1712.8 3216.9,1718.0"/>
<polyline fill="none" stroke="#a9cdee" stroke-width="0.7" points="3207.3,1712.8 3203.4,1718.0 3200.1,1720.0"/>
<polyline fill="none" stroke="#a9cdee" stroke-width="0.7" points="3200.1,1722.2 3204.5,1722.2 3210.1,1721.3 3216.7,1721.3"/>
<polyline fill="none" stroke="#a9cdee" stroke-width="0.7" points="3190.8,1728.8 3199.0,1727.1 3202.3,1729.0 3210.1,1730.1"/>
<polyline fill="none" stroke="#a9cdee" stroke-width="0.7" points="3193.5,1732.3 3199.0,1730.6"/>
<polyline fill="none" stroke="#a9cdee" stroke-width="0.7" points="3220.0,1738.5 3228.8,1736.3 3235.4,1737.4"/>
<polyline fill="none" stroke="#a9cdee" stroke-width="0.7" points="3216.7,1694.1 3220.0,1697.4"/>
<polyline fill="none" stroke="#e4e4ec" stroke-width="0.6" points="3159.4,1704.7 3162.7,1717.7 3169.3,1728.8 3174.8,1738.7"/>
<polyline fill="none" stroke="#e4e4ec" stroke-width="0.6" points="3171.5,1698.1 3172.6,1711.1 3180.3,1724.4 3188.0,1731.2"/>
<polyline fill="none" stroke="#e4e4ec" stroke-width="0.6" points="3220.5,1704.5 3233.2,1700.1 3242.0,1691.3 3239.8,1681.4"/>
<polyline fill="none" stroke="#e4e4ec" stroke-width="0.6" points="3221.1,1708.9 3237.6,1711.1 3253.0,1704.5 3266.3,1708.9"/>
<polyline fill="none" stroke="#e4e4ec" stroke-width="0.6" points="3238.7,1729.9 3249.7,1725.5 3264.0,1727.7"/>
<polyline fill="none" stroke="#e4e4ec" stroke-width="0.6" points="3235.4,1745.3 3249.7,1744.2 3264.0,1739.8"/>
</g>
<g clip-path="url(#fc8)">
<circle cx="3452.8" cy="1713.7" r="68" fill="#cacee5"/>
<polygon fill="#ffffff" points="3435.8,1692.4 3439.1,1689.6 3447.9,1685.8 3452.3,1680.3 3459.0,1671.5 3464.5,1666.0 3472.2,1660.4 3478.8,1657.1 3485.4,1656.0 3488.7,1657.7 3487.6,1661.5 3480.4,1668.2 3476.6,1666.5 3470.0,1669.3 3464.5,1674.8 3460.1,1680.3 3460.1,1686.9 3455.1,1688.0 3454.0,1693.5 3454.5,1699.0 3450.1,1704.5 3444.6,1706.7 3439.1,1706.7 3436.9,1701.2 3438.0,1696.8"/>
<polygon fill="#ffffff" points="3400.5,1737.6 3405.0,1733.2 3402.8,1727.7 3405.0,1722.2 3402.8,1715.5 3406.1,1706.7 3410.5,1704.5 3411.6,1708.9 3409.4,1713.3 3413.8,1717.7 3416.0,1724.4 3419.3,1729.9 3421.5,1731.0 3420.4,1735.4 3414.9,1738.7 3409.4,1739.8 3403.9,1739.8"/>
<polygon fill="#ffffff" points="3440.2,1728.8 3443.5,1722.2 3447.9,1725.5 3455.6,1723.3 3464.5,1721.1 3470.0,1720.0 3476.6,1717.7 3478.8,1713.3 3483.2,1710.0 3484.3,1705.6 3489.8,1704.5 3497.5,1700.1 3503.0,1690.2 3499.7,1683.6 3496.4,1678.1 3495.3,1670.4 3492.0,1663.8 3527.3,1663.8 3527.3,1766.2 3488.7,1766.2 3478.8,1775.0 3475.5,1776.1 3470.0,1769.5 3461.2,1762.9 3455.6,1759.6 3452.3,1760.7 3459.0,1768.4 3466.7,1776.1 3468.9,1779.5 3461.2,1779.5 3452.3,1772.8 3447.9,1768.4 3441.3,1766.2 3434.7,1767.3 3428.1,1769.5 3419.3,1771.7 3410.5,1766.2 3411.6,1755.2 3409.4,1748.6 3402.8,1745.3 3409.4,1743.1 3417.1,1742.0 3423.7,1737.6 3428.1,1736.5 3429.7,1733.7 3434.7,1728.8"/>
<polygon fill="#ffffff" points="3442.4,1770.6 3446.3,1770.1 3447.0,1779.5 3442.6,1779.2"/>
<polygon fill="#2a6496" points="3476.6,1666.5 3478.8,1667.1 3480.4,1675.9 3475.5,1680.3 3470.0,1685.8 3466.7,1691.3 3468.9,1699.0 3467.8,1704.5 3463.4,1710.0 3462.3,1714.4 3457.8,1717.2 3454.5,1715.5 3452.3,1710.0 3452.3,1704.5 3455.1,1699.0 3454.0,1693.5 3455.1,1688.0 3460.1,1686.9 3460.1,1680.3 3464.5,1674.8 3470.0,1669.3"/>
<polygon fill="#2a6496" points="3480.4,1668.2 3487.6,1661.5 3492.0,1663.8 3495.3,1670.4 3496.4,1678.1 3499.7,1683.6 3503.0,1690.2 3497.5,1697.4 3489.8,1699.0 3482.1,1699.0 3477.1,1695.7 3476.0,1688.0 3482.1,1683.6 3486.5,1680.3 3481.5,1676.4"/>
<polygon fill="#2a6496" points="3443.5,1712.8 3446.3,1711.1 3449.0,1712.8 3448.5,1716.6 3446.3,1718.8 3445.2,1722.2 3443.0,1721.6"/>
<polygon fill="#2a6496" points="3429.7,1733.7 3434.7,1728.8 3439.7,1727.1 3440.2,1731.0 3438.0,1736.5 3435.8,1738.7 3436.4,1743.1 3433.1,1742.5 3429.7,1739.8 3428.6,1736.5"/>
<polygon fill="#2a6496" points="3389.5,1726.6 3393.4,1720.0 3398.3,1721.1 3400.5,1722.2 3399.4,1727.7 3396.7,1731.5 3389.5,1733.7 3388.4,1731.0"/>
<polygon fill="#2a6496" points="3449.0,1752.5 3456.7,1751.9 3458.4,1748.0 3463.4,1746.9 3467.8,1748.6 3467.8,1752.5 3464.5,1755.2 3459.0,1756.3 3452.3,1755.8"/>
<polyline fill="none" stroke="#e4e4ec" stroke-width="0.6" points="3440.2,1728.8 3441.3,1744.2 3439.1,1755.2 3441.3,1766.2"/>
<polyline fill="none" stroke="#e4e4ec" stroke-width="0.6" points="3464.5,1721.1 3461.2,1733.2 3456.7,1742.0 3449.0,1752.5"/>
<polyline fill="none" stroke="#e4e4ec" stroke-width="0.6" points="3476.6,1717.7 3487.6,1731.0 3485.4,1744.2 3467.8,1748.6"/>
<polyline fill="none" stroke="#e4e4ec" stroke-width="0.6" points="3487.6,1731.0 3505.2,1728.8 3516.3,1722.2"/>
<polyline fill="none" stroke="#e4e4ec" stroke-width="0.6" points="3485.4,1744.2 3503.0,1746.4 3510.7,1755.2"/>
<polyline fill="none" stroke="#e4e4ec" stroke-width="0.6" points="3467.8,1752.5 3478.8,1757.4 3488.7,1766.2"/>
<polyline fill="none" stroke="#e4e4ec" stroke-width="0.6" points="3484.3,1705.6 3494.2,1711.1 3508.5,1708.9"/>
<polyline fill="none" stroke="#e4e4ec" stroke-width="0.6" points="3494.2,1711.1 3488.7,1722.2 3487.6,1731.0"/>
</g>
<g class="sans" font-size="51.5" fill="#000">
<text x="1412.2" y="1840.3" textLength="117.6" lengthAdjust="spacingAndGlyphs" fill="#2e3f8f" stroke="#fff" stroke-width="1.1">UE27</text>
<text x="1627.3" y="1836.8" textLength="187.2" lengthAdjust="spacingAndGlyphs">Francja</text>
<text x="1872.5" y="1836.8" textLength="192.2" lengthAdjust="spacingAndGlyphs">Niemcy</text>
<text x="2121.9" y="1836.8" textLength="186.4" lengthAdjust="spacingAndGlyphs">Włochy</text>
<text x="2338.5" y="1836.8" textLength="246.6" lengthAdjust="spacingAndGlyphs">Hiszpania</text>
<text x="2629.6" y="1836.8" textLength="160.3" lengthAdjust="spacingAndGlyphs">Polska</text>
<text x="2847.6" y="1836.8" textLength="219.7" lengthAdjust="spacingAndGlyphs">Południo</text>
<text x="2912.0" y="1898" textLength="76.5" lengthAdjust="spacingAndGlyphs">wa</text>
<text x="2865.4" y="1958.7" textLength="181.7" lengthAdjust="spacingAndGlyphs">Europa</text>
<text x="3157.4" y="1836.8" textLength="92.1" lengthAdjust="spacingAndGlyphs">CEE</text>
<text x="3332.9" y="1836.8" textLength="237.0" lengthAdjust="spacingAndGlyphs">Północna</text>
<text x="3360.0" y="1898" textLength="181.6" lengthAdjust="spacingAndGlyphs">Europa</text>
</g>
</g>
</g>
<!-- FOOTER -->
<g id="footer">
<text class="serif" x="131.5" y="2088" font-size="65" font-weight="bold" fill="#4b2e53" stroke="#4b2e53" stroke-width="1.6" stroke-linejoin="round" textLength="316" lengthAdjust="spacingAndGlyphs">opinionway</text>
<text class="serif" x="445" y="2095.5" font-size="57" font-weight="bold" fill="#d81b60">’</text>
<text class="sans" x="183" y="2109.7" font-size="15.4" font-weight="bold" fill="#4b2e53" textLength="238" lengthAdjust="spacing">CENTRAL EASTERN EUROPE</text>
<rect x="521" y="2021" width="12.6" height="27.5" fill="#4b2e53"/>
<rect x="521" y="2090" width="12.6" height="34" fill="#4b2e53"/>
<text class="sans" x="495.5" y="2079.5" font-size="31" fill="#4b2e53" stroke="#fff" stroke-width="0.7" textLength="65" lengthAdjust="spacingAndGlyphs">oraz</text>
<g id="polling-icon">
<circle cx="616.8" cy="2070.8" r="22.3" fill="none" stroke="#2a6f9c" stroke-width="3.5" stroke-dasharray="133.12 7.00" transform="rotate(98.0 616.8 2070.8)"/>
<circle cx="616.8" cy="2070.8" r="16.1" fill="none" stroke="#2a6f9c" stroke-width="3.5" stroke-dasharray="95.26 5.90" transform="rotate(88.5 616.8 2070.8)"/>
<circle cx="616.8" cy="2070.8" r="10.3" fill="none" stroke="#2a6f9c" stroke-width="3.5" stroke-dasharray="59.12 5.60" transform="rotate(60.6 616.8 2070.8)"/>
<circle cx="616.5" cy="2070.4" r="7" fill="#f7c21c"/>
</g>
<text class="sans" y="2080.9" font-size="39.5" fill="#2a6f9c" stroke="#2a6f9c" stroke-width="0.9"><tspan x="649.5" textLength="129.5" lengthAdjust="spacingAndGlyphs">polling</tspan> <tspan x="786.5" textLength="125" lengthAdjust="spacingAndGlyphs">Europe</tspan></text>
<rect x="903.5" y="2077.6" width="9" height="3.8" fill="#f7c21c"/>
<text class="sans" x="942" y="2080.4" font-size="30.5" fill="#3d2b45">&amp;</text>
<g id="miso">
<rect x="1001.9" y="2037.2" width="73.9" height="66.4" fill="#fff" stroke="#27286b" stroke-width="0.9"/>
<rect x="1001.9" y="2066.7" width="43.5" height="36.9" fill="#27286b"/>
<rect x="1064.7" y="2037.2" width="11.1" height="29.5" fill="#27286b"/>
<text class="serif" font-weight="bold" font-size="43" fill="#27286b" y="2066.2"><tspan x="1002.2" textLength="41" lengthAdjust="spacingAndGlyphs">M</tspan><tspan x="1044.6" textLength="14" lengthAdjust="spacingAndGlyphs">I</tspan></text>
<text class="serif" font-weight="bold" font-size="52" y="2102.8"><tspan x="1008.5" fill="#fff" textLength="33" lengthAdjust="spacingAndGlyphs">S</tspan><tspan x="1046" fill="#27286b" textLength="30.5" lengthAdjust="spacingAndGlyphs">O</tspan></text>
<rect x="1082.2" y="2037.2" width="1.6" height="66.4" fill="#e8788a"/>
<g class="serif" font-size="14.3" fill="#5b5b9b">
<text x="1085.3" y="2048.4" textLength="104" lengthAdjust="spacingAndGlyphs">Międzynarodowy</text>
<text x="1085.3" y="2065.2" textLength="45.5" lengthAdjust="spacingAndGlyphs">Instytut</text>
<text x="1085.3" y="2083.2" textLength="84.5" lengthAdjust="spacingAndGlyphs">Społeczeństwa</text>
<text x="1085.3" y="2100" textLength="92.5" lengthAdjust="spacingAndGlyphs">Obywatelskiego</text>
</g>
</g>
<text class="sans" x="3710" y="2082" font-size="36" fill="#3d2b45" text-anchor="middle">1</text>
</g>
</svg>
</body>
</html>
